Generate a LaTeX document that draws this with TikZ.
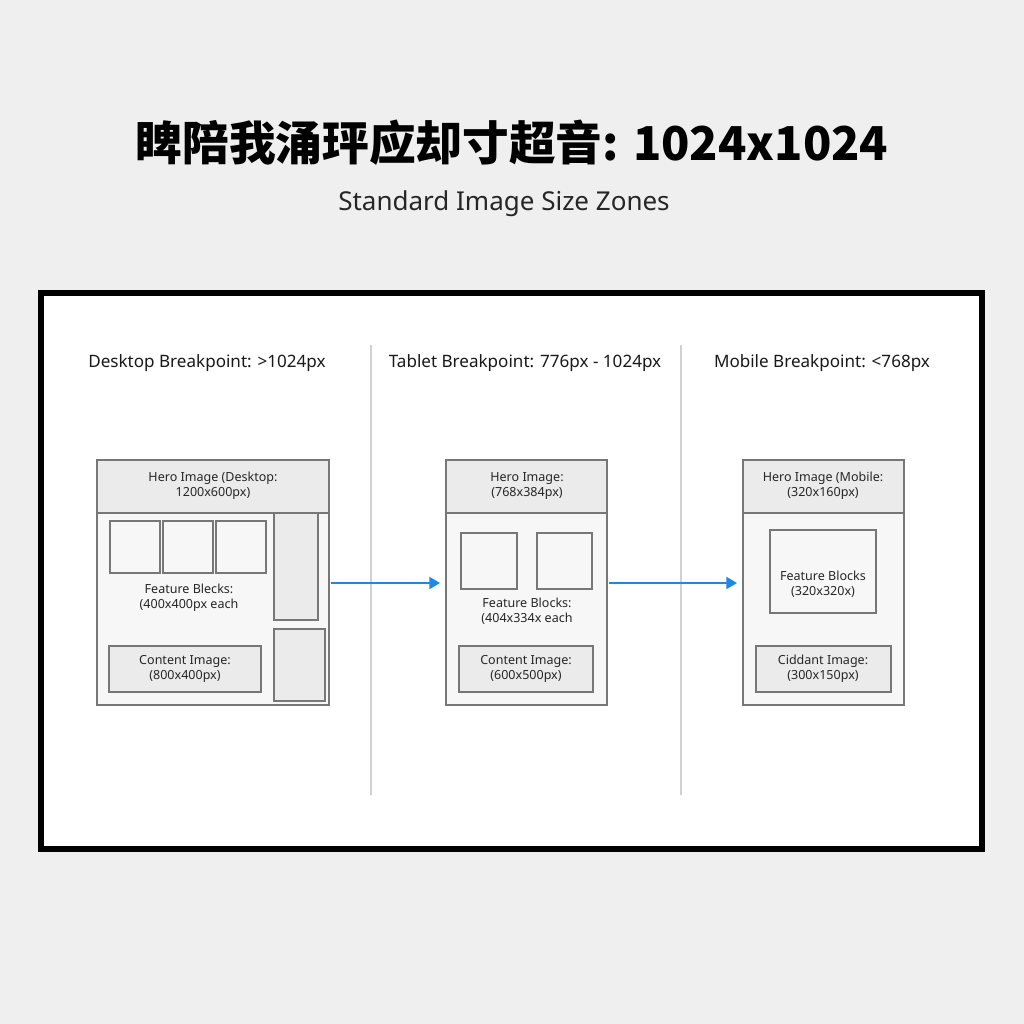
\documentclass[tikz,border=0pt]{standalone}
\usepackage{fontspec}
\setmainfont{Noto Sans}
\newfontfamily\cjk{Noto Sans CJK SC}
\usetikzlibrary{arrows.meta}
\definecolor{bg}{HTML}{EFEFEF}
\definecolor{boxgray}{HTML}{EBEBEB}
\definecolor{edge}{HTML}{777777}
\definecolor{arrowblue}{HTML}{1E88E5}
\tikzset{
  pane/.style={draw=edge, line width=0.8pt, fill=white!97!black},
  shade/.style={draw=edge, line width=0.8pt, fill=boxgray},
  sq/.style={draw=edge, line width=0.8pt, fill=white!97!black},
  lbl/.style={font=\fontsize{9.4}{11.5}\selectfont, align=center, text=black!85},
  head/.style={font=\fontsize{12.8}{14}\selectfont, text=black!90},
  flow/.style={draw=arrowblue, line width=1.5pt, -{Triangle[length=8pt,width=9pt]}},
}
\begin{document}
\begin{tikzpicture}[x=0.75pt,y=-0.75pt]
\useasboundingbox (0,0) rectangle (1024,1024);
\fill[bg] (0,0) rectangle (1024,1024);
\node[font=\cjk\bfseries\fontsize{35}{40}\selectfont] (title) at (512,143) {睥陪我涌玶应却寸超音: 1024x1024};
\node[font=\fontsize{19.5}{22}\selectfont, text=black!85] (sub) at (504,204) {Standard Image Size Zones};
\draw[line width=4.5pt, fill=white] (41,293) rectangle (982,849);
\draw[black!18, line width=0.8pt] (371,345) -- (371,795);
\draw[black!18, line width=0.8pt] (681,345) -- (681,795);
\node[head] (h1) at (207,363) {Desktop Breakpoint: >1024px};
\node[head] (h2) at (525,363) {Tablet Breakpoint: 776px - 1024px};
\node[head] (h3) at (822,363) {Mobile Breakpoint: <768px};
% desktop
\draw[pane] (97,460) rectangle (329,705);
\draw[shade] (97,460) rectangle (329,513);
\node[lbl] (d1) at (213,486) {Hero Image (Desktop:\\1200x600px)};
\draw[sq] (110,521) rectangle (160,573);
\draw[sq] (163,521) rectangle (213,573);
\draw[sq] (216,521) rectangle (266,573);
\draw[shade] (274,513) rectangle (318,620);
\draw[shade] (274,629) rectangle (325,701);
\node[lbl] (d2) at (189,598) {Feature Blecks:\\(400x400px each};
\draw[shade] (109,646) rectangle (261,692);
\node[lbl] (d3) at (185,669) {Content Image:\\(800x400px)};
\coordinate (da) at (331,583);
% tablet
\draw[pane] (446,460) rectangle (607,705);
\draw[shade] (446,460) rectangle (607,513);
\node[lbl] (t1) at (527,486) {Hero Image:\\(768x384px)};
\draw[sq] (461,533) rectangle (517,589);
\draw[sq] (537,533) rectangle (592,589);
\node[lbl] (t2) at (527,611) {Feature Blocks:\\(404x334x each};
\draw[shade] (459,646) rectangle (593,692);
\node[lbl] (t3) at (526,669) {Content Image:\\(600x500px)};
\coordinate (ta) at (440,583);
\coordinate (tb) at (609,583);
% mobile
\draw[pane] (743,460) rectangle (904,705);
\draw[shade] (743,460) rectangle (904,513);
\node[lbl] (m1) at (823,486) {Hero Image (Mobile:\\(320x160px)};
\draw[sq] (770,530) rectangle (876,613);
\node[lbl] (m2) at (823,584) {Feature Blocks\\(320x320x)};
\draw[shade] (756,646) rectangle (891,692);
\node[lbl] (m3) at (823,669) {Ciddant Image:\\(300x150px)};
\coordinate (ma) at (737,583);
\draw[flow] (da) -- (ta);
\draw[flow] (tb) -- (ma);
\end{tikzpicture}
\end{document}
